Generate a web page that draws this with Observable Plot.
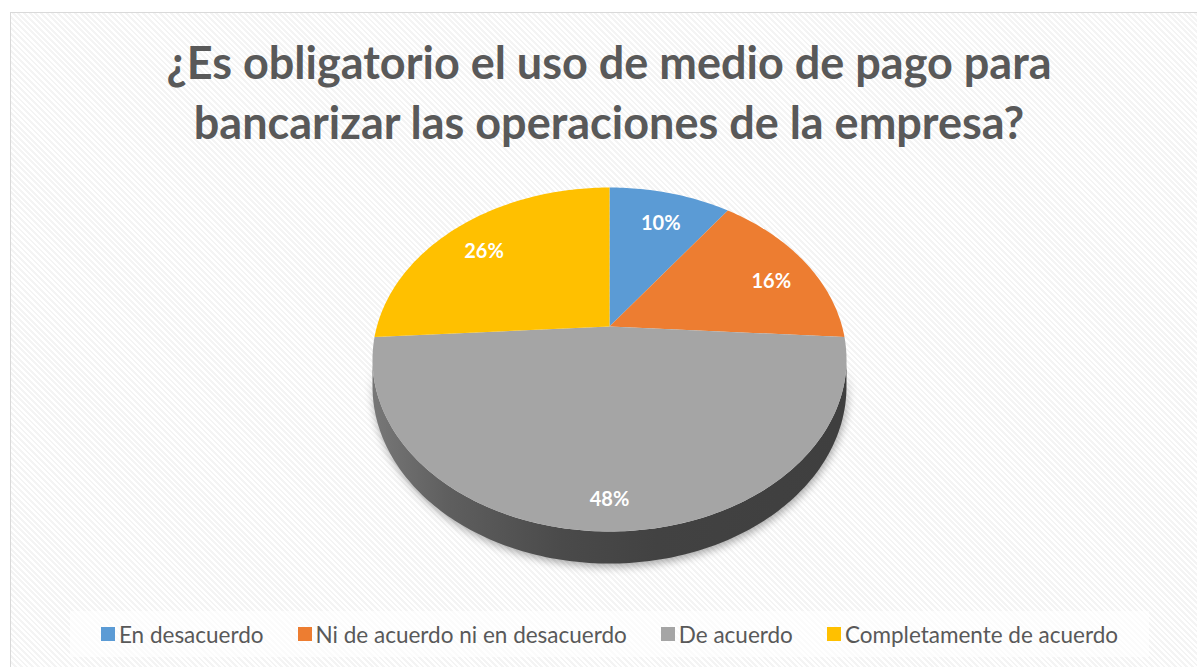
<!DOCTYPE html>
<html>
<head>
<meta charset="utf-8">
<script src="https://cdn.jsdelivr.net/npm/d3@7"></script>
<script src="https://cdn.jsdelivr.net/npm/@observablehq/plot@0.6"></script>
<style>
  html, body { margin: 0; padding: 0; background: #ffffff; overflow: hidden; }
  #frame {
    position: absolute; left: 10px; top: 12px; width: 1200px; height: 670px;
    border-left: 1px solid #d9d9d9; border-top: 1px solid #d9d9d9;
    background: repeating-linear-gradient(45deg, #ffffff 0px, #ffffff 2px, #f4f4f4 2px, #f4f4f4 4px);
  }
  #chart { position: absolute; left: 0; top: 0; width: 1197px; }
  #title {
    height: 161px; box-sizing: border-box; padding-top: 32px; padding-left: 21px;
    font: 700 45px Lato, "Open Sans", sans-serif; line-height: 60px; color: #595959; text-align: center;
  }
  #plot { height: 450px; }
  #plot svg { display: block; background: transparent; }
  #legend {
    margin-left: 70px; width: 1079px; height: 46px; background: rgba(255,255,255,0.6);
    display: flex; align-items: center; justify-content: center; gap: 34px;
    font: 400 22.5px Lato, sans-serif; color: #595959;
  }
  .item { display: flex; align-items: center; white-space: nowrap; }
  .sw { width: 14px; height: 14px; margin-right: 4px; display: inline-block; }
</style>
</head>
<body>
<div id="frame"></div>
<div id="chart">
  <div id="title"></div>
  <div id="plot"></div>
  <div id="legend"></div>
</div>
<script>
// ---- data ----
const titleLines = ["¿Es obligatorio el uso de medio de pago para", "bancarizar las operaciones de la empresa?"];
const categories = ["En desacuerdo", "Ni de acuerdo ni en desacuerdo", "De acuerdo", "Completamente de acuerdo"];
const values = [10, 16, 48, 26];
const colors = ["#5b9bd5", "#ed7d31", "#a5a5a5", "#ffc000"];

// ---- 3D view (perspective homography of the pie disc) ----
const W = 1197, H = 450, OY = 161;
const CX = 609, CY = 326, A = 232.6, C = 103.1, K = 0.1919, T = 25.9;
function proj(u, v, z) {
  const den = 1 + K * v;
  return [CX + A * u / den, (CY - C * v + T * (z || 0)) / den - OY];
}
function unproj(x, y) {
  const Y = y + OY;
  const v = (CY - Y) / (C + K * Y);
  const u = (x - CX) * (1 + K * v) / A;
  return [u, v];
}
const projection = d3.geoTransform({
  point(x, y, z) { const p = proj(x, y, z); this.stream.point(p[0], p[1]); }
});

const total = d3.sum(values);
const step = Math.PI / 180;
function arcPts(a0, a1, z) {
  const n = Math.max(2, Math.ceil(Math.abs(a1 - a0) / step));
  return d3.range(n + 1).map(i => {
    const a = a0 + (a1 - a0) * i / n;
    return [Math.sin(a), Math.cos(a), z];
  });
}
let acc = 0;
const slices = values.map((v, i) => {
  const a0 = acc / total * 2 * Math.PI;
  acc += v;
  const a1 = acc / total * 2 * Math.PI;
  const ring = [[0, 0, 0], ...arcPts(a0, a1, 0), [0, 0, 0]];
  return {type: "Feature", properties: {category: categories[i], value: v, a0, a1},
          geometry: {type: "Polygon", coordinates: [ring]}};
});

// visible side wall (front silhouette of the cylinder)
const s0 = Math.acos(-K), s1 = 2 * Math.PI - s0;
const sideRing = [...arcPts(s0, s1, 0), ...arcPts(s1, s0, 1)];
sideRing.push(sideRing[0]);
const side = {type: "Feature", properties: {}, geometry: {type: "Polygon", coordinates: [sideRing]}};

// labels: mid-angle, inside the slab
const labels = slices.map(f => {
  const m = (f.properties.a0 + f.properties.a1) / 2, r = 0.82;
  const p = proj(r * Math.sin(m), r * Math.cos(m), 0.4);
  const [u, v] = unproj(p[0], p[1]);
  return {u, v, label: `${Math.round(f.properties.value / total * 100)}%`};
});

const chart = Plot.plot({
  width: W, height: H, margin: 0,
  projection,
  style: {background: "transparent", overflow: "visible"},
  color: {domain: categories, range: colors},
  marks: [
    Plot.geo([side], {fill: "url(#sideGrad)"}),
    Plot.geo(slices, {fill: d => d.properties.category}),
    Plot.text(labels, {x: "u", y: "v", text: "label", fill: "white", fontSize: 20, fontWeight: "bold", fontFamily: "Lato, sans-serif"})
  ]
});
document.getElementById("plot").appendChild(chart);

const svg = d3.select(chart);
const defs = svg.insert("defs", ":first-child");
const g = defs.append("linearGradient").attr("id", "sideGrad")
  .attr("gradientUnits", "userSpaceOnUse").attr("x1", CX - A).attr("x2", CX + A).attr("y1", 0).attr("y2", 0);
[[0, "#767676"], [0.15, "#5f5f5f"], [0.4, "#4a4a4a"], [0.6, "#424242"], [1, "#3f3f3f"]]
  .forEach(([o, c]) => g.append("stop").attr("offset", o).attr("stop-color", c));
svg.select('g[aria-label="geo"]').style("filter", "drop-shadow(1px 3px 4px rgba(0,0,0,0.35))");

// title & legend
d3.select("#title").html(titleLines.join("<br>"));
const items = d3.select("#legend").selectAll(".item").data(categories).join("div").attr("class", "item");
items.append("span").attr("class", "sw").style("background", (d, i) => colors[i]);
items.append("span").text(d => d);
</script>
</body>
</html>
